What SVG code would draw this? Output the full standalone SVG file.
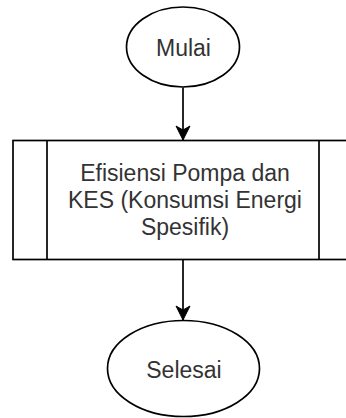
<svg xmlns="http://www.w3.org/2000/svg" width="346" height="418" viewBox="0 0 346 418">
<defs>
<style>
.shape{fill:#ffffff;stroke:#000000;stroke-width:1.7}
.edge{fill:none;stroke:#000000;stroke-width:1.7}
.lbl{font-family:"Liberation Sans",Arial,Helvetica,sans-serif;font-size:23px;fill:#333333;text-anchor:middle}
</style>
<marker id="arr" markerUnits="userSpaceOnUse" markerWidth="16" markerHeight="16" viewBox="0 0 16 16" refX="15" refY="8" orient="auto">
<path d="M1,1 L15,8 L1,15 L5,8 Z" fill="#000000" stroke="#000000" stroke-width="1"/>
</marker>
</defs>
<rect width="346" height="418" fill="#ffffff"/>
<g id="connectors">
<path class="edge" d="M183,87.5 L183,140" marker-end="url(#arr)"/>
<path class="edge" d="M183,259.5 L183,320" marker-end="url(#arr)"/>
</g>
<g id="mulai">
<ellipse class="shape" cx="183" cy="47" rx="56.5" ry="40"/>
<text class="lbl" x="183.5" y="56">Mulai</text>
</g>
<g id="proses">
<rect class="shape" x="13" y="140.5" width="340" height="119"/>
<line class="shape" x1="47" y1="140.5" x2="47" y2="259.5"/>
<line class="shape" x1="319" y1="140.5" x2="319" y2="259.5"/>
<text class="lbl"><tspan x="185" y="181">Efisiensi Pompa dan</tspan><tspan x="185" y="208">KES (Konsumsi Energi</tspan><tspan x="185" y="234.5">Spesifik)</tspan></text>
</g>
<g id="selesai">
<ellipse class="shape" cx="183.5" cy="368.5" rx="76" ry="48"/>
<text class="lbl" x="184" y="378">Selesai</text>
</g>
</svg>
